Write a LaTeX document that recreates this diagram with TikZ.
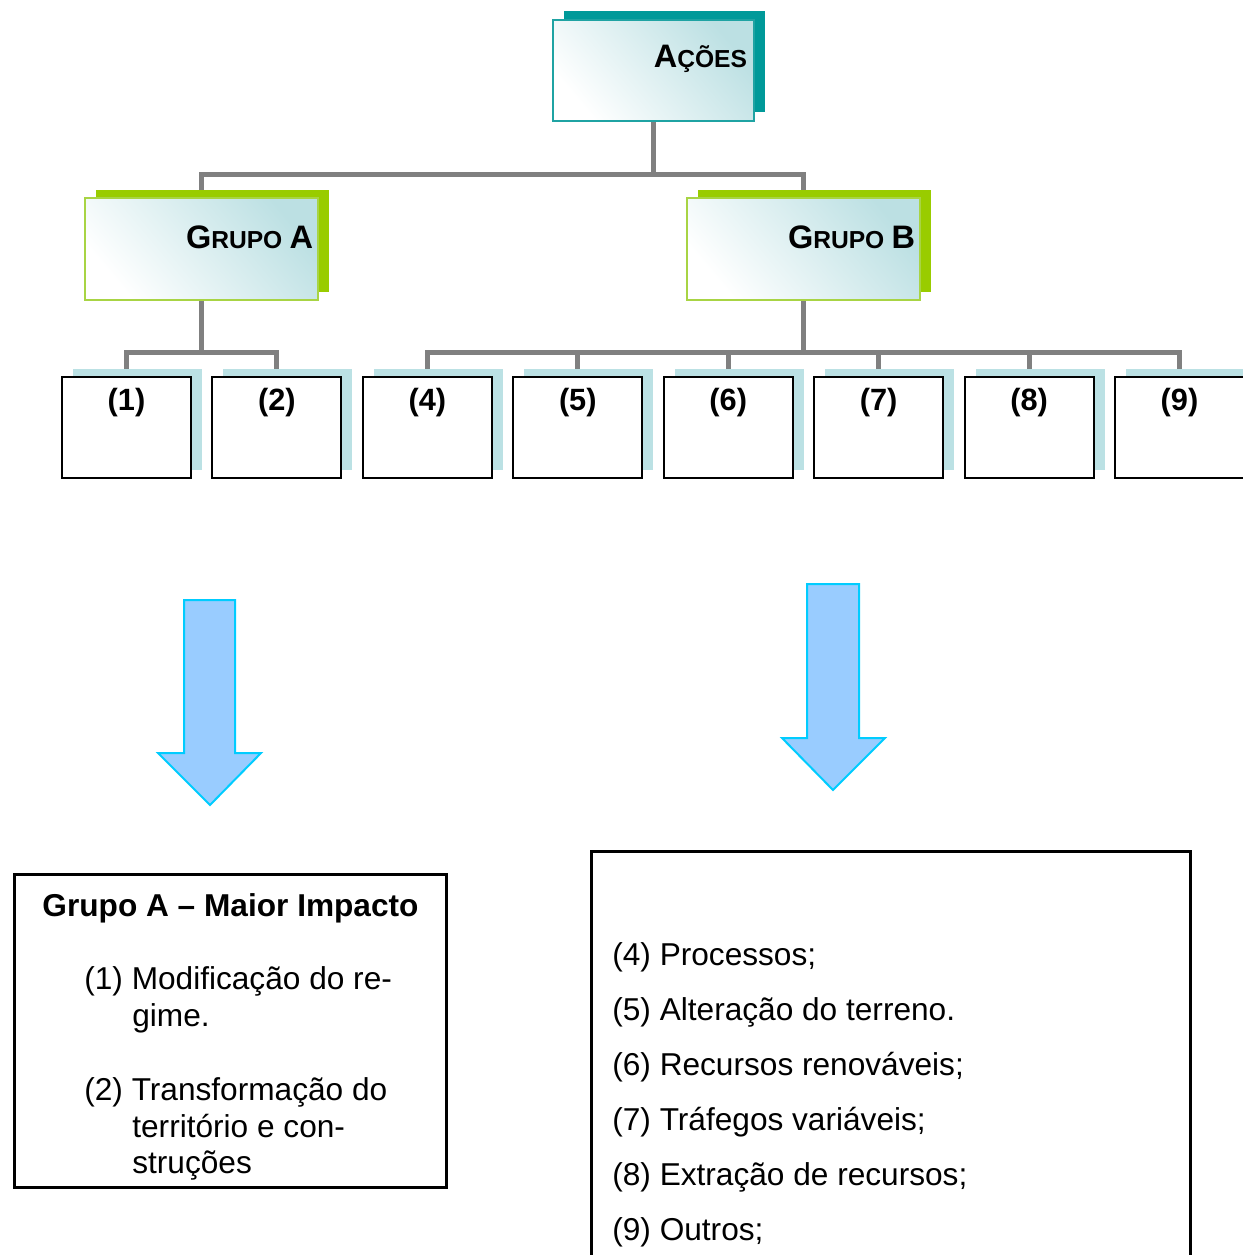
\documentclass[tikz,border=0pt]{standalone}
\usepackage{fontspec}
\setmainfont{Liberation Sans}
\usetikzlibrary{positioning,calc,shadows,backgrounds}
\definecolor{tealshadow}{HTML}{009999}
\definecolor{tealline}{HTML}{1FA3A3}
\definecolor{limeshadow}{HTML}{99CC00}
\definecolor{limeline}{HTML}{A8D444}
\definecolor{paleblue}{HTML}{BBE1E4}
\definecolor{gradcyan}{HTML}{BCE0E3}
\definecolor{connector}{HTML}{808080}
\definecolor{arrowfill}{HTML}{99CCFF}
\definecolor{arrowline}{HTML}{00CCFF}

\newcommand{\smallcap}[1]{{\fontsize{14}{16}\selectfont #1}}

\begin{document}
\begin{tikzpicture}[x=0.02cm, y=-0.02cm,
    headbox/.style={rectangle, left color=white, right color=gradcyan,
                    shading angle=130,
                    line width=0.04cm, inner ysep=0pt, align=right,
                    font=\fontsize{18.5}{22}\selectfont\bfseries},
    acoesbox/.style={headbox, draw=tealline,
                     minimum width=4.02cm, minimum height=2.02cm,
                     inner xsep=0.14cm, text width=3.74cm,
                     text height=0.94cm, text depth=1.08cm,
                     general shadow={fill=tealshadow, shadow xshift=0.22cm, shadow yshift=0.18cm}},
    grupobox/.style={headbox, draw=limeline,
                     minimum width=4.66cm, minimum height=2.04cm,
                     inner xsep=0.1cm, text width=4.46cm,
                     text height=1.0cm, text depth=1.04cm,
                     general shadow={fill=limeshadow, shadow xshift=0.22cm, shadow yshift=0.16cm}},
    leaf/.style={rectangle, draw=black, fill=white, line width=0.04cm,
                 minimum width=2.58cm, minimum height=2.02cm, inner sep=0pt,
                 text height=0.66cm, text depth=1.36cm,
                 font=\fontsize{17.5}{20}\selectfont\bfseries,
                 general shadow={fill=paleblue, shadow xshift=0.22cm, shadow yshift=0.16cm}},
    conn/.style={draw=connector, line width=0.1cm},
    bigarrow/.style={fill=arrowfill, draw=arrowline, line width=0.04cm},
    panel/.style={rectangle, draw=black, line width=0.06cm},
    txt/.style={font=\fontsize{18}{21}\selectfont, anchor=base west, inner sep=0pt},
]
\useasboundingbox (0,0) rectangle (1242,1255);

% hierarchy
\node[acoesbox] (acoes) at (653.5,70.5) {A\smallcap{ÇÕES}};
\node[grupobox] (grupoA) at (201.5,249) {G\smallcap{RUPO}\hspace{0.22em}A};
\node[grupobox] (grupoB) at (803.5,249) {G\smallcap{RUPO}\hspace{0.22em}B};

\foreach \lbl [count=\k from 0] in {1,2,4,5,6,7,8,9}
  \node[leaf] (b\lbl) at ({126.5+150.43*\k},427.5) {(\lbl)};

\begin{scope}[on background layer]
  \draw[conn] (acoes.south) -- ++(0,53) -| (grupoA.north);
  \draw[conn] (acoes.south) -- ++(0,53) -| (grupoB.north);
  \foreach \n in {1,2}
    \draw[conn] (grupoA.south) -- ++(0,52) -| (b\n.north);
  \foreach \n in {4,...,9}
    \draw[conn] (grupoB.south) -- ++(0,52) -| (b\n.north);
\end{scope}

% big arrows
\draw[bigarrow] (184,600) -- (235,600) -- (235,753) -- (261,753) -- (210,805)
  -- (158,753) -- (184,753) -- cycle;
\draw[bigarrow] (807,584) -- (859,584) -- (859,738) -- (885,738) -- (833,790)
  -- (782,738) -- (807,738) -- cycle;

% group A panel
\node[panel, minimum width=8.66cm, minimum height=6.28cm] (panelA) at (230.5,1031) {};
\node[txt, anchor=base] (titleA) at (230.5,916) {\bfseries Grupo A – Maior Impacto};
\foreach \x/\y/\txt [count=\i] in {84/989/(1) Modificação do re-,
    132/1026/gime.,
    84/1100/(2) Transformação do,
    132/1137/território e con-,
    132/1173/struções}
  \node[txt] (lineA\i) at (\x,\y) {\txt};

% group B panel
\node[panel, minimum width=12cm, minimum height=8.48cm] (panelB) at (891,1063) {};
\foreach \txt [count=\i from 0] in {(4) Processos;,
    (5) Alteração do terreno.,
    (6) Recursos renováveis;,
    (7) Tráfegos variáveis;,
    (8) Extração de recursos;,
    (9) Outros;}
  \node[txt] (lineB\i) at (612,{965+55*\i}) {\txt};
\end{tikzpicture}
\end{document}
